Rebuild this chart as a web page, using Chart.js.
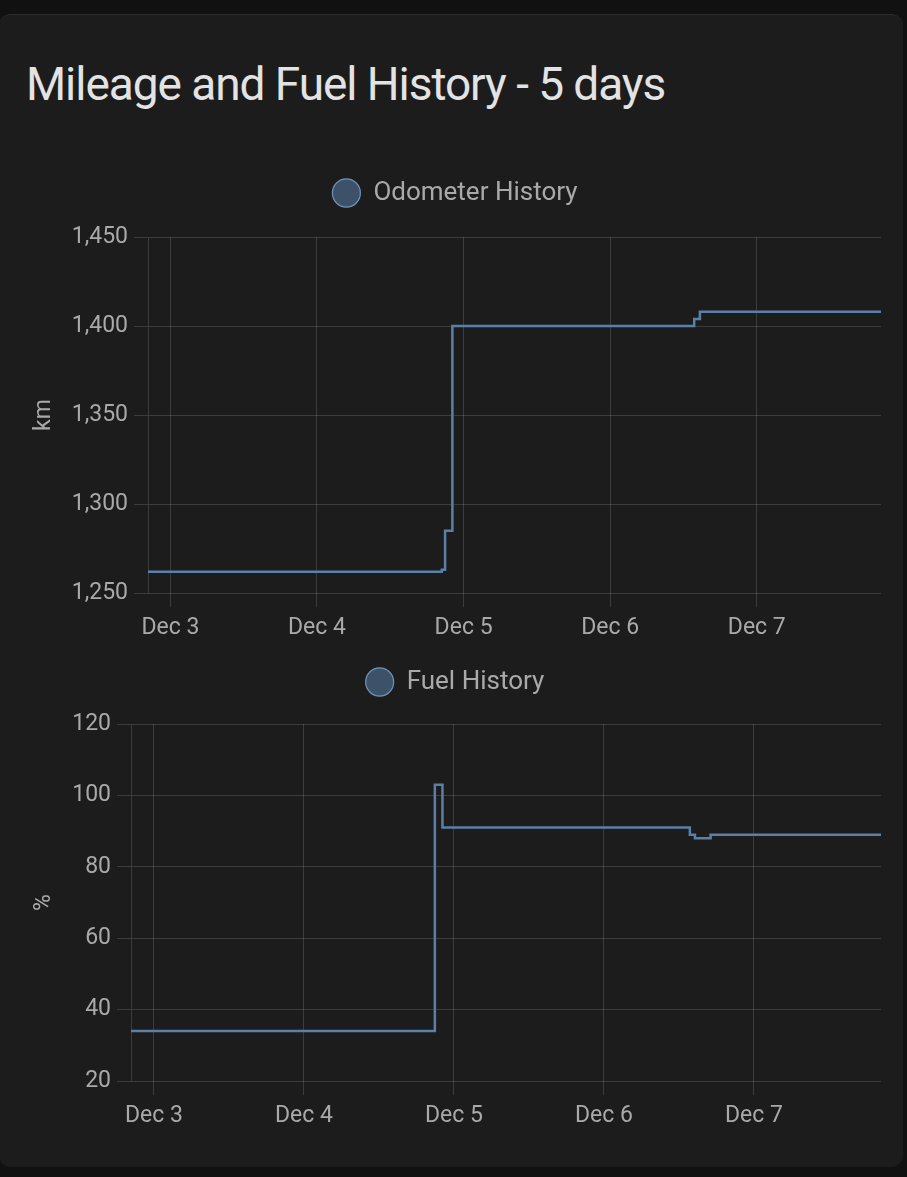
<!DOCTYPE html>
<html>
<head>
<meta charset="utf-8">
<script src="https://cdn.jsdelivr.net/npm/chart.js@4"></script>
<style>
  html, body { margin: 0; padding: 0; background: #111111; }
  body { width: 907px; height: 1177px; position: relative; overflow: hidden; font-family: Roboto, sans-serif; }
  .card { position: absolute; left: -1px; top: 14px; width: 904px; height: 1152px; background: #1c1c1c; border-radius: 12px; border-top: 1px solid #2c2c2c; }
  h1 { position: absolute; left: 26px; top: 61px; margin: 0; font-size: 46px; font-weight: 400; color: #e3e3e3; line-height: 1; letter-spacing: -1.05px; }
  .box { position: absolute; left: 0; width: 907px; }
  #odoBox { top: 170px; height: 480px; }
  #fuelBox { top: 659px; height: 479px; }
</style>
</head>
<body>
<div class="card"></div>
<h1>Mileage and Fuel History - 5 days</h1>
<div class="box" id="odoBox"><canvas id="odo-chart"></canvas></div>
<div class="box" id="fuelBox"><canvas id="fuel-chart"></canvas></div>
<script>
const rangeStart = '2023-12-02T20:20Z';
const rangeEnd = '2023-12-07T20:20Z';
const dayTicks = ['2023-12-03T00:00Z', '2023-12-04T00:00Z', '2023-12-05T00:00Z', '2023-12-06T00:00Z', '2023-12-07T00:00Z'];
const dayLabels = ['Dec 3', 'Dec 4', 'Dec 5', 'Dec 6', 'Dec 7'];

const odoTimes = ['2023-12-02T20:20Z', '2023-12-04T20:26Z', '2023-12-04T20:58Z', '2023-12-04T22:10Z', '2023-12-06T13:45Z', '2023-12-06T14:41Z', '2023-12-07T20:20Z'];
const odoValues = [1262, 1263, 1285, 1400, 1404, 1408, 1408];
const odoTicks = [1250, 1300, 1350, 1400, 1450];

const fuelTimes = ['2023-12-02T20:20Z', '2023-12-04T20:57Z', '2023-12-04T22:10Z', '2023-12-06T13:45Z', '2023-12-06T14:34Z', '2023-12-06T17:04Z', '2023-12-07T20:20Z'];
const fuelValues = [34, 103, 91, 89, 88, 89, 89];
const fuelTicks = [20, 40, 60, 80, 100, 120];

const lineColor = '#5a7fa9';
const fillColor = 'rgba(90, 127, 169, 0.55)';
const gridColor = 'rgba(255, 255, 255, 0.14)';
const textColor = '#a9a9a9';
const padLeft = 29;

function makeChart(canvas, label, times, values, yTicks, yTitle, plotLeft, legendHeight) {
    const points = times.map((t, i) => ({ x: Date.parse(t), y: values[i] }));
    const dayMs = dayTicks.map(t => Date.parse(t));

    return new Chart(canvas, {
        type: 'line',
        data: {
            datasets: [{
                label: label,
                data: points,
                borderColor: lineColor,
                backgroundColor: fillColor,
                borderWidth: 2.5,
                pointRadius: 0,
                stepped: true,
                fill: false
            }]
        },
        options: {
            responsive: true,
            maintainAspectRatio: false,
            animation: false,
            layout: { padding: { left: padLeft, right: 26, top: 0, bottom: 0 } },
            plugins: {
                tooltip: { enabled: false },
                legend: {
                    position: 'top',
                    labels: {
                        color: textColor,
                        font: { family: 'Roboto', size: 26 },
                        usePointStyle: true,
                        pointStyle: 'circle',
                        boxHeight: 20,
                        pointStyleWidth: 28,
                        padding: 10,
                        generateLabels: chart => [{
                            text: label,
                            fillStyle: fillColor,
                            strokeStyle: '#6f93bb',
                            lineWidth: 1.2,
                            pointStyle: 'circle',
                            fontColor: textColor,
                            datasetIndex: 0
                        }]
                    }
                }
            },
            scales: {
                x: {
                    type: 'linear',
                    min: Date.parse(rangeStart),
                    max: Date.parse(rangeEnd),
                    afterBuildTicks: scale => {
                        scale.ticks = dayMs.map(v => ({ value: v }));
                    },
                    afterFit: scale => { scale.height = 57; },
                    ticks: {
                        color: textColor,
                        font: { family: 'Roboto', size: 23 },
                        padding: 7,
                        maxRotation: 0,
                        autoSkip: false,
                        callback: (value) => dayLabels[dayMs.indexOf(value)]
                    },
                    grid: { color: gridColor, tickLength: 14, drawOnChartArea: true },
                    border: { display: false }
                },
                y: {
                    min: yTicks[0],
                    max: yTicks[yTicks.length - 1],
                    afterBuildTicks: scale => {
                        scale.ticks = yTicks.map(v => ({ value: v }));
                    },
                    afterFit: scale => { scale.width = plotLeft - padLeft; },
                    title: {
                        display: true,
                        text: yTitle,
                        color: textColor,
                        font: { family: 'Roboto', size: 23 },
                        padding: { top: 1, bottom: 0 }
                    },
                    ticks: {
                        color: textColor,
                        font: { family: 'Roboto', size: 23 },
                        padding: 6,
                        callback: value => value.toLocaleString('en-US')
                    },
                    grid: { color: gridColor, tickLength: 14 },
                    border: { display: true, color: gridColor }
                }
            }
        },
        plugins: [{
            id: 'legendGap',
            beforeInit(chart) {
                const fit = chart.legend.fit;
                chart.legend.fit = function () {
                    fit.bind(chart.legend)();
                    this.height = legendHeight;
                };
            }
        }]
    });
}

makeChart(document.getElementById('odo-chart'), 'Odometer History', odoTimes, odoValues, odoTicks, 'km', 148, 67);
makeChart(document.getElementById('fuel-chart'), 'Fuel History', fuelTimes, fuelValues, fuelTicks, '%', 131, 65);
</script>
</body>
</html>
